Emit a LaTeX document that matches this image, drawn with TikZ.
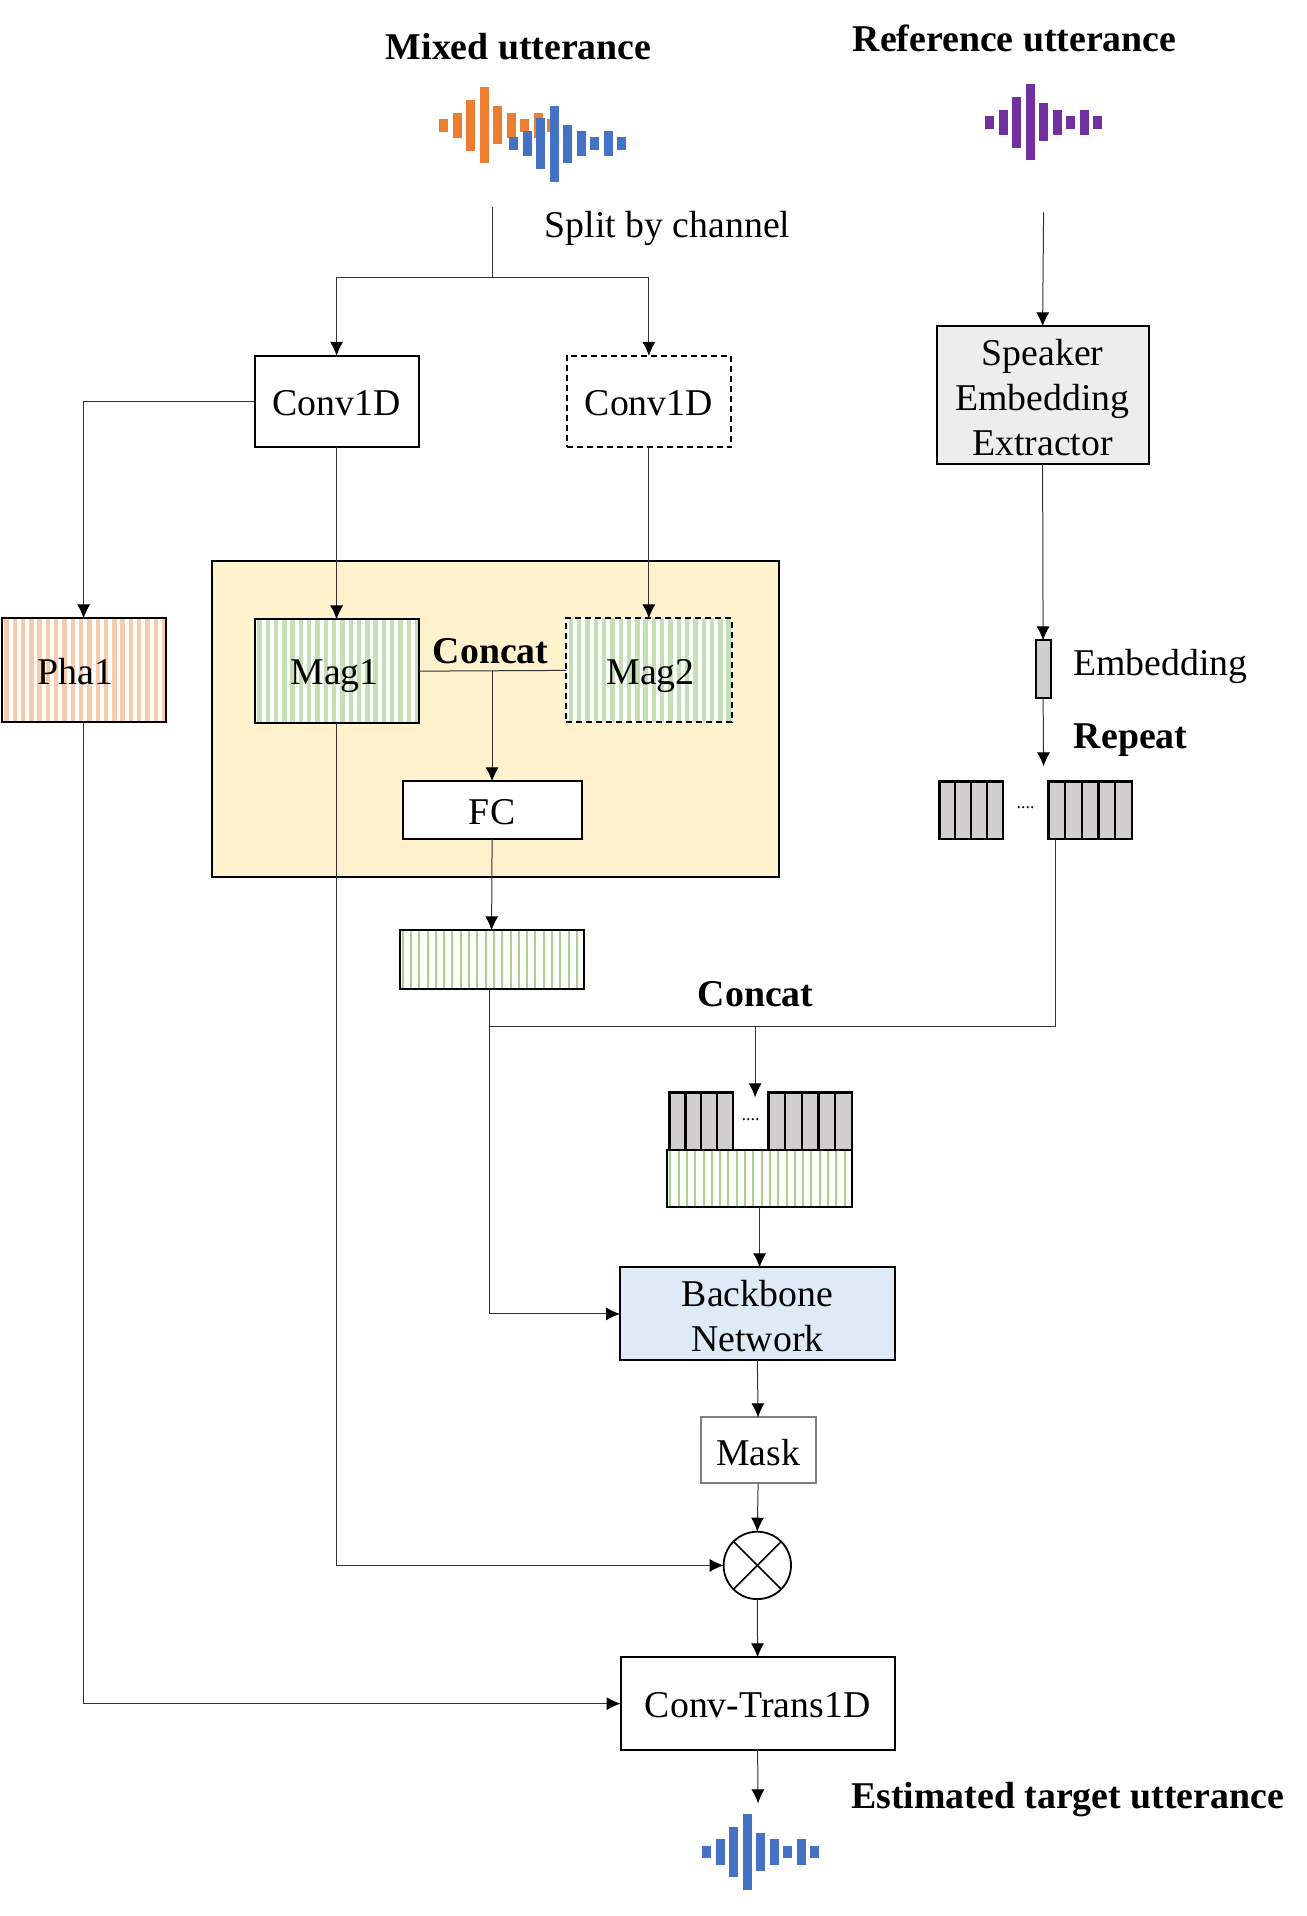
\documentclass[tikz,border=0pt]{standalone}
\usepackage{fontspec}
\setmainfont{Liberation Serif}
\usetikzlibrary{arrows.meta,calc}
\definecolor{orangeW}{HTML}{ED7D31}
\definecolor{blueW}{HTML}{4472C4}
\definecolor{purpleW}{HTML}{7030A0}
\definecolor{outerF}{HTML}{FFF2CC}
\definecolor{greenS}{HTML}{C5E0B4}
\definecolor{greenT}{HTML}{A9D18E}
\definecolor{orangeS}{HTML}{F8CBAD}
\definecolor{cellG}{HTML}{D0CECE}
\definecolor{spkF}{HTML}{EDEDED}
\definecolor{bbF}{HTML}{DEEBF7}
\tikzset{
  lbl/.style={inner sep=0pt,outer sep=0pt,align=center,font=\fontsize{18.9}{22.5}\selectfont},
  blbl/.style={lbl,font=\fontsize{18.9}{22.5}\selectfont\bfseries},
  bx/.style={draw=black,line width=1pt,inner sep=0pt,outer sep=0pt},
  cell/.style={bx,fill=cellG,line width=1.2pt},
  conn/.style={draw=black!80,line width=0.5pt},
  dashbx/.style={dash pattern=on 3pt off 2pt},
  arr/.style={conn,-{Latex[length=7pt,width=6.5pt,black]}},
  stripes/.style n args={4}{path picture={%
    \foreach \k in {0,...,#4}{%
      \fill[#1] ([xshift={#3pt+\k*4.15pt}]path picture bounding box.south west) rectangle
                ([xshift={#3pt+\k*4.15pt+#2pt}]path picture bounding box.north west);}}},
}
\newcommand{\pbox}[7][]{% name x1 y1 x2 y2 style text
  \pgfmathsetmacro{\cxx}{(#3+#5)/2}\pgfmathsetmacro{\cyy}{(#4+#6)/2}%
  \pgfmathsetmacro{\ww}{(#5-#3)*0.5}\pgfmathsetmacro{\hh}{(#6-#4)*0.5}%
  \node[bx,minimum width=\ww pt,minimum height=\hh pt,#7] (#2) at (\cxx,\cyy) {};
  \if\relax\detokenize{#1}\relax\else\node[lbl,yshift=-0.9pt] (#2T) at (\cxx,\cyy) {#1};\fi}
\newcommand{\wave}[5]{% x0 yc step width color
  \foreach \h [count=\i from 0] in {1,2,4,6,3,2,1,2,1}{%
    \pgfmathsetmacro{\xa}{#1+\i*#3-#4/2}\pgfmathsetmacro{\xb}{#1+\i*#3+#4/2}%
    \fill[#5] (\xa,{#2-\h*6.33}) rectangle (\xb,{#2+\h*6.33});}}
\begin{document}
\begin{tikzpicture}[x=0.5pt,y=-0.5pt]
\useasboundingbox (0,0) rectangle (1306,1916);
\begin{scope}[xshift=0.3pt,yshift=-0.2pt]
% headings
\node[blbl] (mixedT) at (518,46) {Mixed utterance};
\node[blbl] (refT) at (1014,38.5) {Reference utterance};
\node[blbl] (estT) at (1067,1799.5) {Estimated target utterance};
\node[lbl] (splitT) at (667,228.5) {Split by channel};
\node[lbl] (embT) at (1160,666.5) {Embedding};
\node[blbl] (repT) at (1130,739.5) {Repeat};
\node[blbl] (conT) at (755,994) {Concat};
% waves
\wave{443}{125}{13.5}{9}{orangeW}
\wave{513}{143.3}{13.5}{9}{blueW}
\wave{989}{122}{13.5}{9}{purpleW}
\wave{706}{1851.7}{13.5}{9}{blueW}
% outer region
\pbox{outer}{211}{561}{778}{877}{fill=outerF}
% boxes
\pbox[Conv1D]{convA}{254}{355.5}{418}{447}{fill=white}
\pbox[Conv1D]{convB}{566}{355.5}{730.5}{447}{fill=white,dashbx}
\pbox[Speaker\\Embedding\\Extractor]{spk}{936}{326}{1148}{464}{fill=spkF}
\pbox{pha}{1}{618}{165}{721.5}{fill=white,stripes={orangeS}{2.2}{1.3}{22}}
\pbox{magA}{254}{619}{418}{722.5}{fill=white,stripes={greenS}{2.2}{1.3}{22}}
\pbox{magB}{565.5}{618}{731}{722}{fill=white,dashbx,stripes={greenS}{2.2}{1.3}{22}}
\node[lbl] (phaT) at (74.5,671) {Pha1};
\node[lbl] (magAT) at (334,675.5) {Mag1};
\node[lbl] (magBT) at (650,675.5) {Mag2};
\node[blbl] (conInT) at (490,651) {Concat};
\pbox[FC]{fc}{402}{781}{581}{838.5}{fill=white}
\pbox{stripA}{399}{930}{583}{988.5}{fill=white,stripes={greenT}{1}{1}{24}}
\pbox{embB}{1035}{640}{1050}{697.5}{fill=cellG}
% repeat rows
\foreach \i in {0,...,3}{\pgfmathsetmacro{\a}{938.7+\i*15.9}\pgfmathsetmacro{\b}{\a+15.9}\pbox{ra\i}{\a}{781}{\b}{838.5}{cell}}
\foreach \i in {0,...,4}{\pgfmathsetmacro{\a}{1047.7+\i*16.72}\pgfmathsetmacro{\b}{\a+16.72}\pbox{rb\i}{\a}{781}{\b}{838.5}{cell}}
\node[lbl,font=\fontsize{9}{9}\selectfont] (dotsA) at (1025,807) {....};
\foreach \i in {0,...,3}{\pgfmathsetmacro{\a}{669+\i*15.83}\pgfmathsetmacro{\b}{\a+15.83}\pbox{sa\i}{\a}{1092}{\b}{1150}{cell}}
\foreach \i in {0,...,4}{\pgfmathsetmacro{\a}{767.7+\i*16.72}\pgfmathsetmacro{\b}{\a+16.72}\pbox{sb\i}{\a}{1092}{\b}{1150}{cell}}
\node[lbl,font=\fontsize{9}{9}\selectfont] (dotsB) at (750,1119) {....};
\pbox{stripB}{666.7}{1150}{851.3}{1207}{fill=white,stripes={greenT}{1}{1}{24}}
\pbox[Backbone\\Network]{bb}{619.5}{1267}{894}{1360}{fill=bbF}
\pbox[Mask]{mask}{700}{1417}{815}{1483}{fill=white,draw=black!50}
\node[circle,draw=black,line width=0.9pt,fill=white,minimum size=33.7pt,inner sep=0pt,outer sep=0pt] (mul) at (756.7,1565) {};
\draw[line width=0.8pt] (mul.45) -- (mul.225) (mul.135) -- (mul.315);
\pbox[Conv-Trans1D]{ct}{620}{1657}{894}{1749.5}{fill=white}
% free ends
\coordinate (mixEnd) at (491.5,207);
\coordinate (splitJ) at (491.5,277);
\coordinate (refEnd) at (1043,212);
\coordinate (repEnd) at (1043,766);
\coordinate (outEnd) at (757.5,1803);
\coordinate (concatDrop) at (754.5,1026);
\coordinate (concatEnd) at (754.5,1097);
% connectors
\draw[conn] (mixEnd) -- (splitJ);
\draw[arr] (splitJ) -| (convA.north);
\draw[arr] (splitJ) -| (convB.north);
\draw[arr] (refEnd) -- (spk.north);
\draw[arr] (spk.south) -- (embB.north);
\draw[arr] (embB.south) -- (repEnd);
\draw[arr] (convA.west) -| (pha.north);
\draw[arr] (convA.south) -- (magA.north);
\draw[arr] (convB.south) -- (magB.north);
\draw[conn] (magA.east) -- (magB.west);
\draw[arr] (fc.north |- magA.east) -- (fc.north);
\draw[arr] (fc.south) -- (stripA.north);
\draw[conn] ([xshift=-1pt]stripA.south) |- (concatDrop) -| ([xshift=-0.7pt]rb0.south);
\draw[arr] (concatDrop) -- (concatEnd);
\draw[arr] ([xshift=-1pt]stripA.south) |- (bb.west);
\draw[arr] (stripB.south) -- (bb.north -| stripB.south);
\draw[arr] (bb.south) -- (mask.north);
\draw[arr] (mask.south) -- (mul.north);
\draw[arr] (mul.south) -- (ct.north);
\draw[arr] (magA.south) |- (mul.west);
\draw[arr] (pha.south) |- (ct.west);
\draw[arr] (ct.south) -- (outEnd);
\end{scope}
\end{tikzpicture}
\end{document}
